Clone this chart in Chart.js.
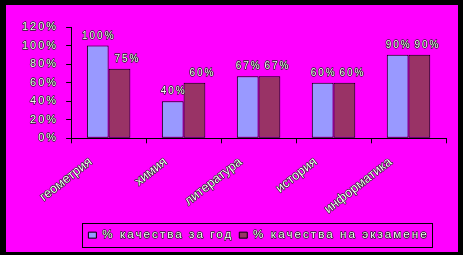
<!DOCTYPE html>
<html>
<head>
<meta charset="utf-8">
<script src="https://cdn.jsdelivr.net/npm/chart.js@4"></script>
<style>
html,body{margin:0;padding:0;background:#000;}
#wrap{position:absolute;left:0;top:0;width:463px;height:255px;}
</style>
</head>
<body>
<div id="wrap"><canvas id="c" width="463" height="255"></canvas></div>
<script>
const categories = ['геометрия', 'химия', 'литература', 'история', 'информатика'];
const seriesNames = ['% качества за год', '% качества на экзамене'];
const yearQuality = [100, 40, 67, 60, 90];
const examQuality = [75, 60, 67, 60, 90];
const yTicks = [0, 20, 40, 60, 80, 100, 120];

const FONT = "'Liberation Sans', Arial, sans-serif";

function spacingFor(font) { return /\b13px/.test(font) ? '0px' : '2px'; }

function prepCtx(ctx) {
  if (ctx.__wrapped) return;
  const origFill = ctx.fillText;
  const origMeasure = ctx.measureText;
  ctx.measureText = function (t) {
    this.letterSpacing = spacingFor(this.font);
    return origMeasure.call(this, t);
  };
  ctx.fillText = function (t, x, y, m) {
    this.letterSpacing = spacingFor(this.font);
    this.save();
    this.lineWidth = 1.3;
    this.lineJoin = 'round';
    this.strokeStyle = '#222';
    if (m !== undefined) this.strokeText(t, x, y, m); else this.strokeText(t, x, y);
    this.restore();
    if (m !== undefined) origFill.call(this, t, x, y, m); else origFill.call(this, t, x, y);
  };
  ctx.__wrapped = true;
}

const stylePlugin = {
  id: 'style',
  beforeInit(chart) { prepCtx(chart.ctx); },
  beforeUpdate(chart) { prepCtx(chart.ctx); },
  beforeDraw(chart) {
    const ctx = chart.ctx;
    ctx.save();
    ctx.fillStyle = '#000';
    ctx.fillRect(0, 0, chart.width, chart.height);
    ctx.fillStyle = '#ff00ff';
    ctx.fillRect(6, 5, 452, 247);
    ctx.restore();
  },
  afterDatasetsDraw(chart) {
    const ctx = chart.ctx;
    ctx.save();
    ctx.font = '10px ' + FONT;
    ctx.fillStyle = '#f4f4f4';
    ctx.textAlign = 'center';
    ctx.textBaseline = 'alphabetic';
    chart.data.datasets.forEach((ds, di) => {
      const meta = chart.getDatasetMeta(di);
      meta.data.forEach((el, i) => {
        const dx = di === 1 ? 7 : 0;
        ctx.fillText(ds.data[i] + '%', el.x + dx + 1, el.y - 7);
      });
    });
    ctx.restore();
  },
  afterDraw(chart) {
    const lg = chart.legend;
    if (!lg || !lg.legendHitBoxes.length) return;
    const hb = lg.legendHitBoxes;
    let l = Infinity, r = -Infinity, t = Infinity, b = -Infinity;
    hb.forEach(h => { l = Math.min(l, h.left); r = Math.max(r, h.left + h.width); t = Math.min(t, h.top); b = Math.max(b, h.top + h.height); });
    const ctx = chart.ctx;
    ctx.save();
    ctx.strokeStyle = '#000';
    ctx.lineWidth = 1;
    ctx.strokeRect(Math.round(l - 6) + 0.5, Math.round(t - 6) + 0.5, Math.round(r - l + 10), Math.round(b - t + 12));
    ctx.restore();
  }
};

new Chart(document.getElementById('c'), {
  type: 'bar',
  data: {
    labels: categories,
    datasets: [
      { label: seriesNames[0], data: yearQuality, backgroundColor: '#9999ff', borderColor: '#000', borderWidth: 1, borderSkipped: false },
      { label: seriesNames[1], data: examQuality, backgroundColor: '#993366', borderColor: '#000', borderWidth: 1, borderSkipped: false }
    ]
  },
  options: {
    responsive: false,
    animation: false,
    devicePixelRatio: 1,
    layout: { padding: { left: 14, right: 17, top: 27, bottom: 4 } },
    datasets: { bar: { categoryPercentage: 0.58, barPercentage: 1.0 } },
    plugins: {
      legend: {
        position: 'bottom',
        fullSize: false,
        labels: { font: { family: FONT, size: 11.7 }, color: '#f4f4f4', boxWidth: 8, boxHeight: 6, padding: 6 }
      },
      tooltip: { enabled: false }
    },
    scales: {
      x: {
        grid: { drawOnChartArea: false, drawTicks: true, tickLength: 5, color: '#000', offset: true },
        border: { display: true, color: '#000', width: 1 },
        ticks: { font: { family: FONT, size: 13 }, color: '#f4f4f4', minRotation: 38, maxRotation: 38, labelOffset: -18, padding: 11 },
        afterFit(s) { s.height = 85; s.paddingLeft = 0; s.paddingRight = 0; }
      },
      y: {
        min: 0, max: 120,
        afterBuildTicks(s) { s.ticks = yTicks.map(v => ({ value: v })); },
        grid: { drawOnChartArea: false, drawTicks: true, tickLength: 5, color: '#000' },
        border: { display: true, color: '#000', width: 1 },
        ticks: { font: { family: FONT, size: 11 }, color: '#f4f4f4', padding: 8, callback: v => v + '%' }
      }
    }
  },
  plugins: [stylePlugin]
});
</script>
</body>
</html>
